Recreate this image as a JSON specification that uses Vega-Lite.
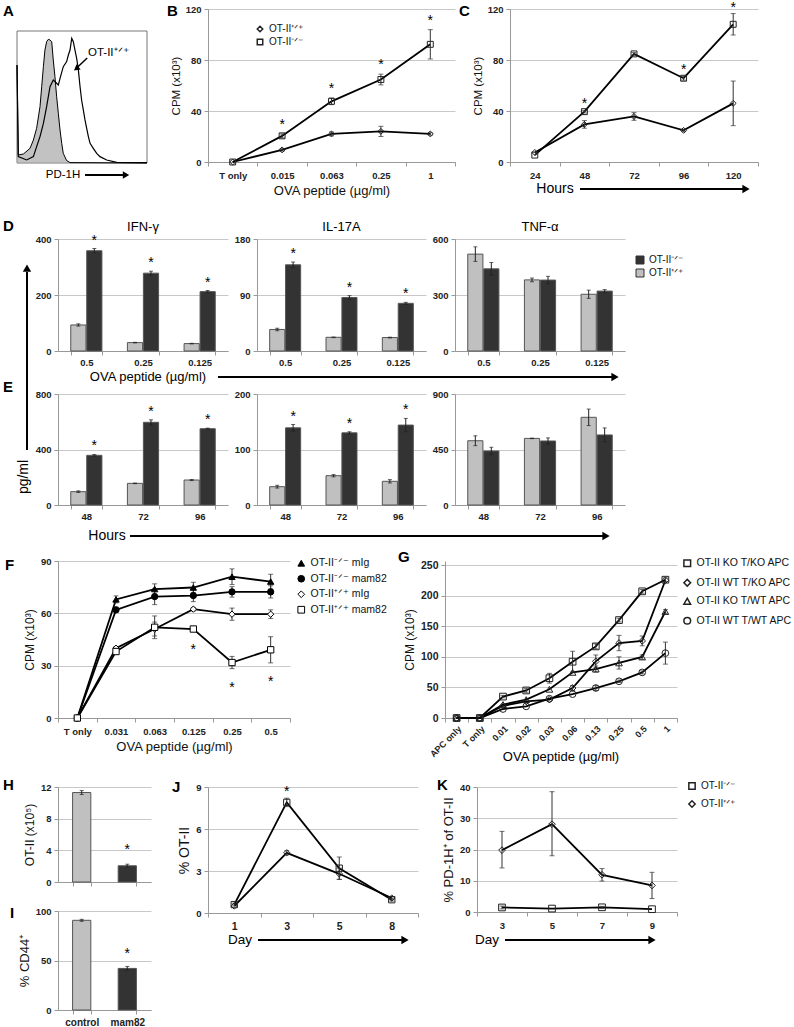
{
"$schema":"https://vega.github.io/schema/vega-lite/v6.json",
"padding":0,
"spacing":0,
"resolve":{"scale":{"color":"independent","fill":"independent","shape":"independent","stroke":"independent","xOffset":"independent"},"legend":{"color":"independent","fill":"independent","shape":"independent","stroke":"independent"}},
"datasets":{
"A":[
{"g":"ctrl","x":0,"y":74.2},{"g":"ctrl","x":1.0,"y":6.1},{"g":"ctrl","x":4.9,"y":6.8},{"g":"ctrl","x":10,"y":11.1},{"g":"ctrl","x":12.6,"y":17.4},{"g":"ctrl","x":15.1,"y":26.3},{"g":"ctrl","x":17.7,"y":42.7},{"g":"ctrl","x":19,"y":57.8},{"g":"ctrl","x":20.3,"y":73},{"g":"ctrl","x":21.5,"y":85.6},{"g":"ctrl","x":22.8,"y":91.9},{"g":"ctrl","x":24.1,"y":93.7},{"g":"ctrl","x":25.4,"y":93.2},{"g":"ctrl","x":26.7,"y":91.9},{"g":"ctrl","x":27.9,"y":78},{"g":"ctrl","x":29.2,"y":65.4},{"g":"ctrl","x":30.5,"y":50.2},{"g":"ctrl","x":31.8,"y":37.6},{"g":"ctrl","x":33.1,"y":25},{"g":"ctrl","x":34.4,"y":14.9},{"g":"ctrl","x":35.6,"y":7.3},{"g":"ctrl","x":38.2,"y":1.8},{"g":"ctrl","x":40.8,"y":0.3},{"g":"ctrl","x":100,"y":0},
{"g":"wt","x":0,"y":74.2},{"g":"wt","x":1.0,"y":4.8},{"g":"wt","x":7.4,"y":2.3},{"g":"wt","x":12.6,"y":4.8},{"g":"wt","x":15.1,"y":12.4},{"g":"wt","x":17.7,"y":20},{"g":"wt","x":20.3,"y":30},{"g":"wt","x":22.8,"y":42.7},{"g":"wt","x":25.4,"y":57.8},{"g":"wt","x":27.9,"y":62.9},{"g":"wt","x":30.5,"y":60.4},{"g":"wt","x":31.8,"y":59.1},{"g":"wt","x":33.1,"y":64.1},{"g":"wt","x":35.6,"y":73},{"g":"wt","x":38.2,"y":76.8},{"g":"wt","x":39.5,"y":81.8},{"g":"wt","x":40.8,"y":85.6},{"g":"wt","x":42.1,"y":94.4},{"g":"wt","x":43.3,"y":91.9},{"g":"wt","x":44.6,"y":85.6},{"g":"wt","x":45.9,"y":79.3},{"g":"wt","x":47.2,"y":70.5},{"g":"wt","x":48.5,"y":57.8},{"g":"wt","x":49.7,"y":47.7},{"g":"wt","x":51,"y":40.2},{"g":"wt","x":52.3,"y":32.6},{"g":"wt","x":53.6,"y":26.3},{"g":"wt","x":54.9,"y":20},{"g":"wt","x":56.2,"y":14.9},{"g":"wt","x":58.7,"y":11.1},{"g":"wt","x":61.3,"y":7.3},{"g":"wt","x":63.8,"y":4.8},{"g":"wt","x":69,"y":2.3},{"g":"wt","x":76.7,"y":0.5},{"g":"wt","x":100,"y":0.3}
],
"B":[
{"d":"T only","g":"OT-II⁺ᐟ⁺","v":0},
{"d":"0.015","g":"OT-II⁺ᐟ⁺","v":9.5,"lo":8.5,"hi":10.5},
{"d":"0.063","g":"OT-II⁺ᐟ⁺","v":22,"lo":20.5,"hi":23.5},
{"d":"0.25","g":"OT-II⁺ᐟ⁺","v":24,"lo":20,"hi":28},
{"d":"1","g":"OT-II⁺ᐟ⁺","v":22,"lo":21,"hi":23},
{"d":"T only","g":"OT-II⁻ᐟ⁻","v":0},
{"d":"0.015","g":"OT-II⁻ᐟ⁻","v":20.5,"lo":19,"hi":22,"s":true},
{"d":"0.063","g":"OT-II⁻ᐟ⁻","v":47.6,"lo":45,"hi":50.2,"s":true},
{"d":"0.25","g":"OT-II⁻ᐟ⁻","v":64.7,"lo":60.5,"hi":68.9,"s":true},
{"d":"1","g":"OT-II⁻ᐟ⁻","v":92.3,"lo":80.8,"hi":103.8,"s":true}
],
"C":[
{"h":"24","g":"OT-II⁺ᐟ⁺","v":7.5},
{"h":"48","g":"OT-II⁺ᐟ⁺","v":29.5,"lo":26.5,"hi":32.5},
{"h":"72","g":"OT-II⁺ᐟ⁺","v":35.7,"lo":32.7,"hi":38.7},
{"h":"96","g":"OT-II⁺ᐟ⁺","v":24.8,"lo":23.8,"hi":25.8},
{"h":"120","g":"OT-II⁺ᐟ⁺","v":46,"lo":28.5,"hi":63.5},
{"h":"24","g":"OT-II⁻ᐟ⁻","v":5.4},
{"h":"48","g":"OT-II⁻ᐟ⁻","v":39.5,"lo":38.5,"hi":40.5,"s":true},
{"h":"72","g":"OT-II⁻ᐟ⁻","v":84.8,"lo":83.8,"hi":85.8},
{"h":"96","g":"OT-II⁻ᐟ⁻","v":65.7,"lo":64.2,"hi":67.2,"s":true},
{"h":"120","g":"OT-II⁻ᐟ⁻","v":108,"lo":99.6,"hi":116.4,"s":true}
],
"D":[
{"c":"IFN","d":"0.5","g":"OT-II⁺ᐟ⁺","v":93,"lo":89,"hi":97},
{"c":"IFN","d":"0.5","g":"OT-II⁻ᐟ⁻","v":358,"lo":350,"hi":366,"s":true},
{"c":"IFN","d":"0.25","g":"OT-II⁺ᐟ⁺","v":30,"lo":29,"hi":31},
{"c":"IFN","d":"0.25","g":"OT-II⁻ᐟ⁻","v":278,"lo":271,"hi":285,"s":true},
{"c":"IFN","d":"0.125","g":"OT-II⁺ᐟ⁺","v":26.5,"lo":25.5,"hi":27.5},
{"c":"IFN","d":"0.125","g":"OT-II⁻ᐟ⁻","v":212,"lo":208,"hi":216,"s":true},
{"c":"IL17","d":"0.5","g":"OT-II⁺ᐟ⁺","v":34.6,"lo":32.6,"hi":36.6},
{"c":"IL17","d":"0.5","g":"OT-II⁻ᐟ⁻","v":138.5,"lo":134,"hi":143,"s":true},
{"c":"IL17","d":"0.25","g":"OT-II⁺ᐟ⁺","v":22,"lo":21.5,"hi":22.5},
{"c":"IL17","d":"0.25","g":"OT-II⁻ᐟ⁻","v":86,"lo":83,"hi":89,"s":true},
{"c":"IL17","d":"0.125","g":"OT-II⁺ᐟ⁺","v":21.6,"lo":21,"hi":22.2},
{"c":"IL17","d":"0.125","g":"OT-II⁻ᐟ⁻","v":76.6,"lo":75,"hi":78.2,"s":true},
{"c":"TNF","d":"0.5","g":"OT-II⁺ᐟ⁺","v":519,"lo":480,"hi":558},
{"c":"TNF","d":"0.5","g":"OT-II⁻ᐟ⁻","v":440,"lo":406,"hi":474},
{"c":"TNF","d":"0.25","g":"OT-II⁺ᐟ⁺","v":381,"lo":371,"hi":391},
{"c":"TNF","d":"0.25","g":"OT-II⁻ᐟ⁻","v":380,"lo":360,"hi":400},
{"c":"TNF","d":"0.125","g":"OT-II⁺ᐟ⁺","v":304,"lo":282,"hi":326},
{"c":"TNF","d":"0.125","g":"OT-II⁻ᐟ⁻","v":321,"lo":313,"hi":329}
],
"E":[
{"c":"IFN","h":"48","g":"OT-II⁺ᐟ⁺","v":96,"lo":90,"hi":102},
{"c":"IFN","h":"48","g":"OT-II⁻ᐟ⁻","v":358,"lo":352,"hi":364,"s":true},
{"c":"IFN","h":"72","g":"OT-II⁺ᐟ⁺","v":156,"lo":154,"hi":158},
{"c":"IFN","h":"72","g":"OT-II⁻ᐟ⁻","v":596,"lo":578,"hi":614,"s":true},
{"c":"IFN","h":"96","g":"OT-II⁺ᐟ⁺","v":180,"lo":176,"hi":184},
{"c":"IFN","h":"96","g":"OT-II⁻ᐟ⁻","v":550,"lo":546,"hi":554,"s":true},
{"c":"IL17","h":"48","g":"OT-II⁺ᐟ⁺","v":33,"lo":30.5,"hi":35.5},
{"c":"IL17","h":"48","g":"OT-II⁻ᐟ⁻","v":139,"lo":133,"hi":145,"s":true},
{"c":"IL17","h":"72","g":"OT-II⁺ᐟ⁺","v":52.8,"lo":50.8,"hi":54.8},
{"c":"IL17","h":"72","g":"OT-II⁻ᐟ⁻","v":130,"lo":128,"hi":132,"s":true},
{"c":"IL17","h":"96","g":"OT-II⁺ᐟ⁺","v":42.7,"lo":39.7,"hi":45.7},
{"c":"IL17","h":"96","g":"OT-II⁻ᐟ⁻","v":144,"lo":132,"hi":156,"s":true},
{"c":"TNF","h":"48","g":"OT-II⁺ᐟ⁺","v":521,"lo":481,"hi":561},
{"c":"TNF","h":"48","g":"OT-II⁻ᐟ⁻","v":438,"lo":408,"hi":468},
{"c":"TNF","h":"72","g":"OT-II⁺ᐟ⁺","v":540,"lo":538,"hi":542},
{"c":"TNF","h":"72","g":"OT-II⁻ᐟ⁻","v":519,"lo":494,"hi":544},
{"c":"TNF","h":"96","g":"OT-II⁺ᐟ⁺","v":711,"lo":644,"hi":778},
{"c":"TNF","h":"96","g":"OT-II⁻ᐟ⁻","v":568,"lo":511,"hi":625}
],
"F":[
{"d":"T only","g":"OT-II⁻ᐟ⁻ mIg","v":0},
{"d":"0.031","g":"OT-II⁻ᐟ⁻ mIg","v":68,"lo":66,"hi":70},
{"d":"0.063","g":"OT-II⁻ᐟ⁻ mIg","v":73.9,"lo":70.9,"hi":76.9},
{"d":"0.125","g":"OT-II⁻ᐟ⁻ mIg","v":74.8,"lo":71.8,"hi":77.8},
{"d":"0.25","g":"OT-II⁻ᐟ⁻ mIg","v":81,"lo":76.5,"hi":85.5},
{"d":"0.5","g":"OT-II⁻ᐟ⁻ mIg","v":78.2,"lo":74,"hi":82.4},
{"d":"T only","g":"OT-II⁻ᐟ⁻ mam82","v":0},
{"d":"0.031","g":"OT-II⁻ᐟ⁻ mam82","v":62,"lo":60.5,"hi":63.5},
{"d":"0.063","g":"OT-II⁻ᐟ⁻ mam82","v":69.6,"lo":65,"hi":74.2},
{"d":"0.125","g":"OT-II⁻ᐟ⁻ mam82","v":70.2,"lo":66.7,"hi":73.7},
{"d":"0.25","g":"OT-II⁻ᐟ⁻ mam82","v":72.3,"lo":69.3,"hi":75.3},
{"d":"0.5","g":"OT-II⁻ᐟ⁻ mam82","v":72.3,"lo":68.8,"hi":75.8},
{"d":"T only","g":"OT-II⁺ᐟ⁺ mIg","v":0},
{"d":"0.031","g":"OT-II⁺ᐟ⁺ mIg","v":40,"lo":39,"hi":41},
{"d":"0.063","g":"OT-II⁺ᐟ⁺ mIg","v":51,"lo":47,"hi":55},
{"d":"0.125","g":"OT-II⁺ᐟ⁺ mIg","v":62.4,"lo":61.4,"hi":63.4},
{"d":"0.25","g":"OT-II⁺ᐟ⁺ mIg","v":59.5,"lo":56,"hi":63},
{"d":"0.5","g":"OT-II⁺ᐟ⁺ mIg","v":59.5,"lo":57,"hi":62},
{"d":"T only","g":"OT-II⁺ᐟ⁺ mam82","v":0},
{"d":"0.031","g":"OT-II⁺ᐟ⁺ mam82","v":38.1,"lo":37,"hi":39.2},
{"d":"0.063","g":"OT-II⁺ᐟ⁺ mam82","v":52,"lo":45.5,"hi":58.5},
{"d":"0.125","g":"OT-II⁺ᐟ⁺ mam82","v":51,"lo":50,"hi":52,"s":true},
{"d":"0.25","g":"OT-II⁺ᐟ⁺ mam82","v":31.8,"lo":28.3,"hi":35.3,"s":true},
{"d":"0.5","g":"OT-II⁺ᐟ⁺ mam82","v":39.1,"lo":31.6,"hi":46.6,"s":true}
],
"G":[
{"d":"APC only","g":"OT-II KO T/KO APC","v":0},{"d":"T only","g":"OT-II KO T/KO APC","v":0},{"d":"0.01","g":"OT-II KO T/KO APC","v":35,"lo":33,"hi":37},{"d":"0.02","g":"OT-II KO T/KO APC","v":45,"lo":42,"hi":48},{"d":"0.03","g":"OT-II KO T/KO APC","v":65,"lo":57,"hi":73},{"d":"0.06","g":"OT-II KO T/KO APC","v":92,"lo":75,"hi":109},{"d":"0.13","g":"OT-II KO T/KO APC","v":117,"lo":113,"hi":121},{"d":"0.25","g":"OT-II KO T/KO APC","v":160,"lo":157,"hi":163},{"d":"0.5","g":"OT-II KO T/KO APC","v":207,"lo":204,"hi":210},{"d":"1","g":"OT-II KO T/KO APC","v":226,"lo":223,"hi":229},
{"d":"APC only","g":"OT-II WT T/KO APC","v":0},{"d":"T only","g":"OT-II WT T/KO APC","v":0},{"d":"0.01","g":"OT-II WT T/KO APC","v":20},{"d":"0.02","g":"OT-II WT T/KO APC","v":27},{"d":"0.03","g":"OT-II WT T/KO APC","v":30},{"d":"0.06","g":"OT-II WT T/KO APC","v":49,"lo":45,"hi":53},{"d":"0.13","g":"OT-II WT T/KO APC","v":92.5,"lo":82,"hi":103},{"d":"0.25","g":"OT-II WT T/KO APC","v":122.5,"lo":110,"hi":135},{"d":"0.5","g":"OT-II WT T/KO APC","v":126,"lo":118,"hi":134},{"d":"1","g":"OT-II WT T/KO APC","v":225},
{"d":"APC only","g":"OT-II KO T/WT APC","v":0},{"d":"T only","g":"OT-II KO T/WT APC","v":0},{"d":"0.01","g":"OT-II KO T/WT APC","v":22},{"d":"0.02","g":"OT-II KO T/WT APC","v":30},{"d":"0.03","g":"OT-II KO T/WT APC","v":47},{"d":"0.06","g":"OT-II KO T/WT APC","v":74.6},{"d":"0.13","g":"OT-II KO T/WT APC","v":80,"lo":75,"hi":85},{"d":"0.25","g":"OT-II KO T/WT APC","v":90,"lo":80,"hi":100},{"d":"0.5","g":"OT-II KO T/WT APC","v":99.7,"lo":96,"hi":103},{"d":"1","g":"OT-II KO T/WT APC","v":174,"lo":171,"hi":177},
{"d":"APC only","g":"OT-II WT T/WT APC","v":0},{"d":"T only","g":"OT-II WT T/WT APC","v":0},{"d":"0.01","g":"OT-II WT T/WT APC","v":14.7},{"d":"0.02","g":"OT-II WT T/WT APC","v":19},{"d":"0.03","g":"OT-II WT T/WT APC","v":31.5},{"d":"0.06","g":"OT-II WT T/WT APC","v":39},{"d":"0.13","g":"OT-II WT T/WT APC","v":49,"lo":45,"hi":53},{"d":"0.25","g":"OT-II WT T/WT APC","v":60,"lo":58,"hi":62},{"d":"0.5","g":"OT-II WT T/WT APC","v":74.5,"lo":72,"hi":77},{"d":"1","g":"OT-II WT T/WT APC","v":106,"lo":88,"hi":124}
],
"HI":[
{"p":"H","t":"control","v":11.3,"lo":11.05,"hi":11.55},
{"p":"H","t":"mam82","v":2.05,"lo":1.85,"hi":2.25,"s":true},
{"p":"I","t":"control","v":90.6,"lo":89.6,"hi":91.6},
{"p":"I","t":"mam82","v":42,"lo":40,"hi":44,"s":true}
],
"J":[
{"day":"1","g":"OT-II⁻ᐟ⁻","v":0.6,"lo":0.5,"hi":0.7},
{"day":"3","g":"OT-II⁻ᐟ⁻","v":7.9,"lo":7.6,"hi":8.2,"s":true},
{"day":"5","g":"OT-II⁻ᐟ⁻","v":3.2,"lo":2.4,"hi":4.0},
{"day":"8","g":"OT-II⁻ᐟ⁻","v":0.95,"lo":0.85,"hi":1.05},
{"day":"1","g":"OT-II⁺ᐟ⁺","v":0.5},
{"day":"3","g":"OT-II⁺ᐟ⁺","v":4.3,"lo":4.15,"hi":4.45},
{"day":"5","g":"OT-II⁺ᐟ⁺","v":2.8,"lo":2.4,"hi":3.2},
{"day":"8","g":"OT-II⁺ᐟ⁺","v":1.07,"lo":0.97,"hi":1.17}
],
"K":[
{"day":"3","g":"OT-II⁺ᐟ⁺","v":19.8,"lo":14.1,"hi":25.8},
{"day":"5","g":"OT-II⁺ᐟ⁺","v":28.1,"lo":18,"hi":38.5},
{"day":"7","g":"OT-II⁺ᐟ⁺","v":11.9,"lo":9.9,"hi":13.9},
{"day":"9","g":"OT-II⁺ᐟ⁺","v":8.5,"lo":4.3,"hi":12.7},
{"day":"3","g":"OT-II⁻ᐟ⁻","v":1.45,"lo":1,"hi":1.9},
{"day":"5","g":"OT-II⁻ᐟ⁻","v":1.1},
{"day":"7","g":"OT-II⁻ᐟ⁻","v":1.5,"lo":1.2,"hi":1.8},
{"day":"9","g":"OT-II⁻ᐟ⁻","v":0.9}
]
},
"vconcat":[
{"hconcat":[
 {"width":160,"height":196,
  "encoding":{"x":{"field":"x","type":"quantitative","scale":{"domain":[-13.077,110],"nice":false,"zero":false},"axis":null},"y":{"field":"y","type":"quantitative","scale":{"domain":[-31.818,116.667],"nice":false,"zero":false},"axis":null}},
  "layer":[
   {"data":{"values":[{"x":-13,"x2":109.9,"y":123.47,"y2":-31.8}]},"mark":{"type":"rect","opacity":0},"encoding":{"x2":{"field":"x2"},"y2":{"field":"y2"}}},
   {"data":{"values":[{"x":0,"x2":100,"y":0,"y2":100}]},"mark":{"type":"rect","fill":"white","fillOpacity":0,"stroke":"#777","strokeWidth":1},"encoding":{"x2":{"field":"x2"},"y2":{"field":"y2"}}},
   {"data":{"name":"A"},"transform":[{"filter":"datum.g == 'ctrl'"}],"mark":{"type":"area","color":"#a8a8a8","line":{"color":"black","strokeWidth":1}}},
   {"data":{"name":"A"},"transform":[{"filter":"datum.g == 'wt'"}],"mark":{"type":"line","color":"black","strokeWidth":1.2}},
   {"data":{"values":[{"x":54.6,"y":83.3,"t":"OT-II⁺ᐟ⁺"}]},"mark":{"type":"text","align":"left","baseline":"middle","fontSize":11.5},"encoding":{"text":{"field":"t"}}},
   {"data":{"values":[{"x":35.4,"y":-9.09,"t":"PD-1H"}]},"mark":{"type":"text","align":"center","baseline":"middle","fontSize":11.5},"encoding":{"text":{"field":"t"}}},
   {"data":{"values":[{"x":-10.77,"y":111.36,"t":"A"}]},"mark":{"type":"text","align":"left","baseline":"alphabetic","fontSize":15,"fontWeight":"bold"},"encoding":{"text":{"field":"t"}}},
   {"data":{"values":[{"x":54,"y":79.5,"x2":46.5,"y2":72.5}]},"mark":{"type":"rule","strokeWidth":1.5,"color":"black"},"encoding":{"x2":{"field":"x2"},"y2":{"field":"y2"}}},
   {"data":{"values":[{"x":52.3,"y":-9.09,"x2":81.5,"y2":-9.09}]},"mark":{"type":"rule","strokeWidth":2,"color":"black"},"encoding":{"x2":{"field":"x2"},"y2":{"field":"y2"}}},
   {"data":{"values":[{"x":45.6,"y":71.5}]},"mark":{"type":"point","shape":"triangle-up","angle":232,"filled":true,"color":"black","size":45,"opacity":1}},
   {"data":{"values":[{"x":83.85,"y":-9.09}]},"mark":{"type":"point","shape":"triangle-right","filled":true,"color":"black","size":55,"opacity":1}}
  ]},
 {"width":247,"height":153,
  "resolve":{"scale":{"x":"independent","y":"independent"}},
  "layer":[
   {"data":{"name":"B"},
    "encoding":{"x":{"field":"d","type":"nominal","sort":["T only","0.015","0.063","0.25","1"],"scale":{"type":"band","paddingInner":0,"paddingOuter":0},"bandPosition":0.5,"axis":{"title":"OVA peptide (µg/ml)","titleFontSize":13,"tickBand":"extent","labelPadding":4,"titlePadding":5}}},
    "layer":[
     {"mark":{"type":"line","color":"black","strokeWidth":1.8},"encoding":{"y":{"field":"v","type":"quantitative","scale":{"domain":[0,120],"nice":false},"axis":{"values":[0,40,80,120],"title":"CPM (x10³)","titleFontSize":11.5}},"detail":{"field":"g","type":"nominal"}}},
     {"mark":{"type":"rule","color":"#333","strokeWidth":1},"encoding":{"y":{"field":"lo","type":"quantitative","scale":{"domain":[0,120],"nice":false},"axis":{"values":[0,40,80,120],"title":"CPM (x10³)","titleFontSize":11.5}},"y2":{"field":"hi"}}},
     {"mark":{"type":"tick","color":"#333","thickness":1,"size":5},"encoding":{"y":{"field":"lo","type":"quantitative","scale":{"domain":[0,120],"nice":false},"axis":{"values":[0,40,80,120],"title":"CPM (x10³)","titleFontSize":11.5}}}},
     {"mark":{"type":"tick","color":"#333","thickness":1,"size":5},"encoding":{"y":{"field":"hi","type":"quantitative","scale":{"domain":[0,120],"nice":false},"axis":{"values":[0,40,80,120],"title":"CPM (x10³)","titleFontSize":11.5}}}},
     {"mark":{"type":"point","filled":false,"color":"#222","strokeWidth":1,"size":35,"opacity":1},"encoding":{"y":{"field":"v","type":"quantitative","scale":{"domain":[0,120],"nice":false},"axis":{"values":[0,40,80,120],"title":"CPM (x10³)","titleFontSize":11.5}},"shape":{"field":"g","type":"nominal","scale":{"domain":["OT-II⁺ᐟ⁺","OT-II⁻ᐟ⁻"],"range":["diamond","square"]},"legend":{"orient":"none","legendX":47,"legendY":15,"title":null,"labelFontSize":10,"symbolSize":30,"rowPadding":1,"symbolStrokeColor":"#222"}}}},
     {"transform":[{"filter":"datum.s"}],"mark":{"type":"text","text":"*","fontSize":14,"dy":-9,"baseline":"middle"},"encoding":{"y":{"field":"hi","type":"quantitative","scale":{"domain":[0,120],"nice":false},"axis":{"values":[0,40,80,120],"title":"CPM (x10³)","titleFontSize":11.5}}}}
    ]},
   {"data":{"values":[{"x":-0.19433,"x2":1.00809,"y":1.05882,"y2":-0.28104}]},"mark":{"type":"rect","opacity":0},"encoding":{"x":{"field":"x","type":"quantitative","scale":{"domain":[0,1],"nice":false,"zero":false},"axis":null},"x2":{"field":"x2"},"y":{"field":"y","type":"quantitative","scale":{"domain":[0,1],"nice":false,"zero":false},"axis":null},"y2":{"field":"y2"}}},
   {"data":{"values":[{"x":-0.166,"y":0.954,"t":"B"}]},"mark":{"type":"text","align":"left","baseline":"alphabetic","fontSize":15,"fontWeight":"bold"},"encoding":{"x":{"field":"x","type":"quantitative","scale":{"domain":[0,1],"nice":false,"zero":false},"axis":null},"y":{"field":"y","type":"quantitative","scale":{"domain":[0,1],"nice":false,"zero":false},"axis":null},"text":{"field":"t"}}}
  ]},
 {"width":248,"height":153,
  "resolve":{"scale":{"x":"independent","y":"independent"}},
  "layer":[
   {"data":{"name":"C"},
    "encoding":{"x":{"field":"h","type":"nominal","sort":["24","48","72","96","120"],"scale":{"type":"band","paddingInner":0,"paddingOuter":0},"bandPosition":0.5,"axis":{"title":null,"tickBand":"extent","labelPadding":4}}},
    "layer":[
     {"mark":{"type":"line","color":"black","strokeWidth":1.8},"encoding":{"y":{"field":"v","type":"quantitative","scale":{"domain":[0,120],"nice":false},"axis":{"values":[0,40,80,120],"title":"CPM (x10³)","titleFontSize":11.5}},"detail":{"field":"g","type":"nominal"}}},
     {"mark":{"type":"rule","color":"#333","strokeWidth":1},"encoding":{"y":{"field":"lo","type":"quantitative","scale":{"domain":[0,120],"nice":false},"axis":{"values":[0,40,80,120],"title":"CPM (x10³)","titleFontSize":11.5}},"y2":{"field":"hi"}}},
     {"mark":{"type":"tick","color":"#333","thickness":1,"size":5},"encoding":{"y":{"field":"lo","type":"quantitative","scale":{"domain":[0,120],"nice":false},"axis":{"values":[0,40,80,120],"title":"CPM (x10³)","titleFontSize":11.5}}}},
     {"mark":{"type":"tick","color":"#333","thickness":1,"size":5},"encoding":{"y":{"field":"hi","type":"quantitative","scale":{"domain":[0,120],"nice":false},"axis":{"values":[0,40,80,120],"title":"CPM (x10³)","titleFontSize":11.5}}}},
     {"mark":{"type":"point","filled":false,"color":"#222","strokeWidth":1,"size":35,"opacity":1},"encoding":{"y":{"field":"v","type":"quantitative","scale":{"domain":[0,120],"nice":false},"axis":{"values":[0,40,80,120],"title":"CPM (x10³)","titleFontSize":11.5}},"shape":{"field":"g","type":"nominal","scale":{"domain":["OT-II⁺ᐟ⁺","OT-II⁻ᐟ⁻"],"range":["diamond","square"]},"legend":null}}},
     {"transform":[{"filter":"datum.s"}],"mark":{"type":"text","text":"*","fontSize":14,"dy":-6,"baseline":"middle"},"encoding":{"y":{"field":"hi","type":"quantitative","scale":{"domain":[0,120],"nice":false},"axis":{"values":[0,40,80,120],"title":"CPM (x10³)","titleFontSize":11.5}}}}
    ]},
   {"data":{"values":[{"x":-0.2137,"x2":1,"y":1.05882,"y2":-0.28104}]},"mark":{"type":"rect","opacity":0},"encoding":{"x":{"field":"x","type":"quantitative","scale":{"domain":[0,1],"nice":false,"zero":false},"axis":null},"x2":{"field":"x2"},"y":{"field":"y","type":"quantitative","scale":{"domain":[0,1],"nice":false,"zero":false},"axis":null},"y2":{"field":"y2"}}},
   {"data":{"values":[{"x":-0.2056,"y":0.954,"t":"C"}]},"mark":{"type":"text","align":"left","baseline":"alphabetic","fontSize":15,"fontWeight":"bold"},"encoding":{"x":{"field":"x","type":"quantitative","scale":{"domain":[0,1],"nice":false,"zero":false},"axis":null},"y":{"field":"y","type":"quantitative","scale":{"domain":[0,1],"nice":false,"zero":false},"axis":null},"text":{"field":"t"}}},
   {"data":{"values":[{"x":0.1815,"y":-0.1765,"t":"Hours"}]},"mark":{"type":"text","align":"center","baseline":"middle","fontSize":14},"encoding":{"x":{"field":"x","type":"quantitative","scale":{"domain":[0,1],"nice":false,"zero":false},"axis":null},"y":{"field":"y","type":"quantitative","scale":{"domain":[0,1],"nice":false,"zero":false},"axis":null},"text":{"field":"t"}}},
   {"data":{"values":[{"x":0.2823,"x2":0.9476,"y":-0.1765}]},"mark":{"type":"rule","strokeWidth":2,"color":"black"},"encoding":{"x":{"field":"x","type":"quantitative","scale":{"domain":[0,1],"nice":false,"zero":false},"axis":null},"x2":{"field":"x2"},"y":{"field":"y","type":"quantitative","scale":{"domain":[0,1],"nice":false,"zero":false},"axis":null}}},
   {"data":{"values":[{"x":0.9516,"y":-0.1765}]},"mark":{"type":"point","shape":"triangle-right","filled":true,"color":"black","size":70,"opacity":1},"encoding":{"x":{"field":"x","type":"quantitative","scale":{"domain":[0,1],"nice":false,"zero":false},"axis":null},"y":{"field":"y","type":"quantitative","scale":{"domain":[0,1],"nice":false,"zero":false},"axis":null}}}
  ]}
],"spacing":0,"resolve":{"scale":{"color":"independent","fill":"independent","shape":"independent","stroke":"independent","xOffset":"independent"},"legend":{"color":"independent","fill":"independent","shape":"independent","stroke":"independent"}}},
{"hconcat":[
 {"width":33,"height":309,
  "encoding":{"x":{"field":"x","type":"quantitative","scale":{"domain":[0,1],"nice":false,"zero":false},"axis":null},"y":{"field":"y","type":"quantitative","scale":{"domain":[0,1],"nice":false,"zero":false},"axis":null}},
  "layer":[
   {"data":{"values":[{"x":0.001,"x2":0.999,"y":1.11003,"y2":0.001}]},"mark":{"type":"rect","opacity":0},"encoding":{"x2":{"field":"x2"},"y2":{"field":"y2"}}},
   {"data":{"values":[{"x":0.0909,"y":1.0259,"t":"D"},{"x":0.0909,"y":0.5049,"t":"E"}]},"mark":{"type":"text","align":"left","baseline":"alphabetic","fontSize":15,"fontWeight":"bold"},"encoding":{"text":{"field":"t"}}},
   {"data":{"values":[{"x":0.742,"y":0.2298,"t":"pg/ml"}]},"mark":{"type":"text","align":"center","baseline":"middle","fontSize":14,"angle":270},"encoding":{"text":{"field":"t"}}},
   {"data":{"values":[{"x":0.8182,"y":0.3172,"y2":0.8932}]},"mark":{"type":"rule","strokeWidth":2,"color":"black"},"encoding":{"y2":{"field":"y2"}}},
   {"data":{"values":[{"x":0.8182,"y":0.9061}]},"mark":{"type":"point","shape":"triangle-up","filled":true,"color":"black","size":70,"opacity":1}}
  ]},
 {"vconcat":[
  {"hconcat":[
   {"width":170,"height":112,
    "resolve":{"scale":{"x":"independent","y":"independent"}},
    "layer":[
     {"data":{"name":"D"},"transform":[{"filter":"datum.c == 'IFN'"}],
      "encoding":{"x":{"field":"d","type":"nominal","sort":["0.5","0.25","0.125"],"scale":{"type":"band","paddingInner":0.45,"paddingOuter":0.225},"axis":{"title":null,"tickBand":"extent","labelPadding":2}},"xOffset":{"field":"g","type":"nominal","scale":{"domain":["OT-II⁺ᐟ⁺","OT-II⁻ᐟ⁻"],"paddingInner":0.05}}},
      "layer":[
       {"mark":{"type":"bar","stroke":"#555","strokeWidth":1},"encoding":{"y":{"field":"v","type":"quantitative","scale":{"domain":[0,400],"nice":false},"axis":{"values":[0,200,400],"title":null}},"color":{"field":"g","type":"nominal","scale":{"domain":["OT-II⁻ᐟ⁻","OT-II⁺ᐟ⁺"],"range":["#333333","#c0c0c0"]},"legend":null}}},
       {"mark":{"type":"rule","color":"#222","strokeWidth":1},"encoding":{"y":{"field":"lo","type":"quantitative","scale":{"domain":[0,400],"nice":false},"axis":{"values":[0,200,400],"title":null}},"y2":{"field":"hi"}}},
       {"mark":{"type":"tick","color":"#222","thickness":1,"size":4},"encoding":{"y":{"field":"lo","type":"quantitative","scale":{"domain":[0,400],"nice":false},"axis":{"values":[0,200,400],"title":null}}}},
       {"mark":{"type":"tick","color":"#222","thickness":1,"size":4},"encoding":{"y":{"field":"hi","type":"quantitative","scale":{"domain":[0,400],"nice":false},"axis":{"values":[0,200,400],"title":null}}}},
       {"transform":[{"filter":"datum.s"}],"mark":{"type":"text","text":"*","fontSize":14,"dy":-8,"baseline":"middle"},"encoding":{"y":{"field":"hi","type":"quantitative","scale":{"domain":[0,400],"nice":false},"axis":{"values":[0,200,400],"title":null}}}}
      ]},
     {"data":{"values":[{"x":-0.14705,"x2":1.02352,"y":1.30357,"y2":-0.15178}]},"mark":{"type":"rect","opacity":0},"encoding":{"x":{"field":"x","type":"quantitative","scale":{"domain":[0,1],"nice":false,"zero":false},"axis":null},"x2":{"field":"x2"},"y":{"field":"y","type":"quantitative","scale":{"domain":[0,1],"nice":false,"zero":false},"axis":null},"y2":{"field":"y2"}}},
     {"data":{"values":[{"x":0.5,"y":1.1071,"t":"IFN-γ"}]},"mark":{"type":"text","align":"center","baseline":"middle","fontSize":13},"encoding":{"x":{"field":"x","type":"quantitative","scale":{"domain":[0,1],"nice":false,"zero":false},"axis":null},"y":{"field":"y","type":"quantitative","scale":{"domain":[0,1],"nice":false,"zero":false},"axis":null},"text":{"field":"t"}}}
    ]},
   {"width":169,"height":112,
    "resolve":{"scale":{"x":"independent","y":"independent"}},
    "layer":[
     {"data":{"name":"D"},"transform":[{"filter":"datum.c == 'IL17'"}],
      "encoding":{"x":{"field":"d","type":"nominal","sort":["0.5","0.25","0.125"],"scale":{"type":"band","paddingInner":0.45,"paddingOuter":0.225},"axis":{"title":null,"tickBand":"extent","labelPadding":2}},"xOffset":{"field":"g","type":"nominal","scale":{"domain":["OT-II⁺ᐟ⁺","OT-II⁻ᐟ⁻"],"paddingInner":0.05}}},
      "layer":[
       {"mark":{"type":"bar","stroke":"#555","strokeWidth":1},"encoding":{"y":{"field":"v","type":"quantitative","scale":{"domain":[0,180],"nice":false},"axis":{"values":[0,90,180],"title":null}},"color":{"field":"g","type":"nominal","scale":{"domain":["OT-II⁻ᐟ⁻","OT-II⁺ᐟ⁺"],"range":["#333333","#c0c0c0"]},"legend":null}}},
       {"mark":{"type":"rule","color":"#222","strokeWidth":1},"encoding":{"y":{"field":"lo","type":"quantitative","scale":{"domain":[0,180],"nice":false},"axis":{"values":[0,90,180],"title":null}},"y2":{"field":"hi"}}},
       {"mark":{"type":"tick","color":"#222","thickness":1,"size":4},"encoding":{"y":{"field":"lo","type":"quantitative","scale":{"domain":[0,180],"nice":false},"axis":{"values":[0,90,180],"title":null}}}},
       {"mark":{"type":"tick","color":"#222","thickness":1,"size":4},"encoding":{"y":{"field":"hi","type":"quantitative","scale":{"domain":[0,180],"nice":false},"axis":{"values":[0,90,180],"title":null}}}},
       {"transform":[{"filter":"datum.s"}],"mark":{"type":"text","text":"*","fontSize":14,"dy":-8,"baseline":"middle"},"encoding":{"y":{"field":"hi","type":"quantitative","scale":{"domain":[0,180],"nice":false},"axis":{"values":[0,90,180],"title":null}}}}
      ]},
     {"data":{"values":[{"x":-0.14792,"x2":1.02366,"y":1.30357,"y2":-0.15178}]},"mark":{"type":"rect","opacity":0},"encoding":{"x":{"field":"x","type":"quantitative","scale":{"domain":[0,1],"nice":false,"zero":false},"axis":null},"x2":{"field":"x2"},"y":{"field":"y","type":"quantitative","scale":{"domain":[0,1],"nice":false,"zero":false},"axis":null},"y2":{"field":"y2"}}},
     {"data":{"values":[{"x":0.5,"y":1.1071,"t":"IL-17A"}]},"mark":{"type":"text","align":"center","baseline":"middle","fontSize":13},"encoding":{"x":{"field":"x","type":"quantitative","scale":{"domain":[0,1],"nice":false,"zero":false},"axis":null},"y":{"field":"y","type":"quantitative","scale":{"domain":[0,1],"nice":false,"zero":false},"axis":null},"text":{"field":"t"}}}
    ]},
   {"width":170,"height":112,
    "resolve":{"scale":{"x":"independent","y":"independent"}},
    "layer":[
     {"data":{"name":"D"},"transform":[{"filter":"datum.c == 'TNF'"}],
      "encoding":{"x":{"field":"d","type":"nominal","sort":["0.5","0.25","0.125"],"scale":{"type":"band","paddingInner":0.45,"paddingOuter":0.225},"axis":{"title":null,"tickBand":"extent","labelPadding":2}},"xOffset":{"field":"g","type":"nominal","scale":{"domain":["OT-II⁺ᐟ⁺","OT-II⁻ᐟ⁻"],"paddingInner":0.05}}},
      "layer":[
       {"mark":{"type":"bar","stroke":"#555","strokeWidth":1},"encoding":{"y":{"field":"v","type":"quantitative","scale":{"domain":[0,600],"nice":false},"axis":{"values":[0,300,600],"title":null}},"color":{"field":"g","type":"nominal","scale":{"domain":["OT-II⁻ᐟ⁻","OT-II⁺ᐟ⁺"],"range":["#333333","#c0c0c0"]},"legend":{"orient":"none","legendX":180,"legendY":16,"title":null,"symbolType":"square","symbolSize":64,"symbolStrokeColor":"#333","symbolStrokeWidth":1,"labelFontSize":10,"rowPadding":1}}}},
       {"mark":{"type":"rule","color":"#222","strokeWidth":1},"encoding":{"y":{"field":"lo","type":"quantitative","scale":{"domain":[0,600],"nice":false},"axis":{"values":[0,300,600],"title":null}},"y2":{"field":"hi"}}},
       {"mark":{"type":"tick","color":"#222","thickness":1,"size":4},"encoding":{"y":{"field":"lo","type":"quantitative","scale":{"domain":[0,600],"nice":false},"axis":{"values":[0,300,600],"title":null}}}},
       {"mark":{"type":"tick","color":"#222","thickness":1,"size":4},"encoding":{"y":{"field":"hi","type":"quantitative","scale":{"domain":[0,600],"nice":false},"axis":{"values":[0,300,600],"title":null}}}}
      ]},
     {"data":{"values":[{"x":-0.14705,"x2":1,"y":1.30357,"y2":-0.15178}]},"mark":{"type":"rect","opacity":0},"encoding":{"x":{"field":"x","type":"quantitative","scale":{"domain":[0,1],"nice":false,"zero":false},"axis":null},"x2":{"field":"x2"},"y":{"field":"y","type":"quantitative","scale":{"domain":[0,1],"nice":false,"zero":false},"axis":null},"y2":{"field":"y2"}}},
     {"data":{"values":[{"x":0.5,"y":1.1071,"t":"TNF-α"}]},"mark":{"type":"text","align":"center","baseline":"middle","fontSize":13},"encoding":{"x":{"field":"x","type":"quantitative","scale":{"domain":[0,1],"nice":false,"zero":false},"axis":null},"y":{"field":"y","type":"quantitative","scale":{"domain":[0,1],"nice":false,"zero":false},"axis":null},"text":{"field":"t"}}}
    ]}
  ],"spacing":0,"resolve":{"scale":{"color":"independent","fill":"independent","shape":"independent","stroke":"independent","xOffset":"independent"},"legend":{"color":"independent","fill":"independent","shape":"independent","stroke":"independent"}}},
  {"width":567,"height":19,
   "encoding":{"x":{"field":"x","type":"quantitative","scale":{"domain":[0,1],"nice":false,"zero":false},"axis":null},"y":{"field":"y","type":"quantitative","scale":{"domain":[0,1],"nice":false,"zero":false},"axis":null}},
   "layer":[
    {"data":{"values":[{"x":-0.04409,"x2":0.999,"y":0.999,"y2":0.001}]},"mark":{"type":"rect","opacity":0},"encoding":{"x2":{"field":"x2"},"y2":{"field":"y2"}}},
    {"data":{"values":[{"x":0.1587,"y":0.5263,"t":"OVA peptide (µg/ml)"}]},"mark":{"type":"text","align":"center","baseline":"middle","fontSize":13},"encoding":{"text":{"field":"t"}}},
    {"data":{"values":[{"x":0.2822,"x2":0.9788,"y":0.5263}]},"mark":{"type":"rule","strokeWidth":2,"color":"black"},"encoding":{"x2":{"field":"x2"}}},
    {"data":{"values":[{"x":0.9824,"y":0.5263}]},"mark":{"type":"point","shape":"triangle-right","filled":true,"color":"black","size":70,"opacity":1}}
   ]},
  {"hconcat":[
   {"width":170,"height":111,
    "resolve":{"scale":{"x":"independent","y":"independent"}},
    "layer":[
     {"data":{"name":"E"},"transform":[{"filter":"datum.c == 'IFN'"}],
      "encoding":{"x":{"field":"h","type":"nominal","sort":["48","72","96"],"scale":{"type":"band","paddingInner":0.45,"paddingOuter":0.225},"axis":{"title":null,"tickBand":"extent","labelPadding":2}},"xOffset":{"field":"g","type":"nominal","scale":{"domain":["OT-II⁺ᐟ⁺","OT-II⁻ᐟ⁻"],"paddingInner":0.05}}},
      "layer":[
       {"mark":{"type":"bar","stroke":"#555","strokeWidth":1},"encoding":{"y":{"field":"v","type":"quantitative","scale":{"domain":[0,800],"nice":false},"axis":{"values":[0,400,800],"title":null}},"color":{"field":"g","type":"nominal","scale":{"domain":["OT-II⁻ᐟ⁻","OT-II⁺ᐟ⁺"],"range":["#333333","#c0c0c0"]},"legend":null}}},
       {"mark":{"type":"rule","color":"#222","strokeWidth":1},"encoding":{"y":{"field":"lo","type":"quantitative","scale":{"domain":[0,800],"nice":false},"axis":{"values":[0,400,800],"title":null}},"y2":{"field":"hi"}}},
       {"mark":{"type":"tick","color":"#222","thickness":1,"size":4},"encoding":{"y":{"field":"lo","type":"quantitative","scale":{"domain":[0,800],"nice":false},"axis":{"values":[0,400,800],"title":null}}}},
       {"mark":{"type":"tick","color":"#222","thickness":1,"size":4},"encoding":{"y":{"field":"hi","type":"quantitative","scale":{"domain":[0,800],"nice":false},"axis":{"values":[0,400,800],"title":null}}}},
       {"transform":[{"filter":"datum.s"}],"mark":{"type":"text","text":"*","fontSize":14,"dy":-8,"baseline":"middle"},"encoding":{"y":{"field":"hi","type":"quantitative","scale":{"domain":[0,800],"nice":false},"axis":{"values":[0,400,800],"title":null}}}}
      ]},
     {"data":{"values":[{"x":-0.14705,"x2":1.02352,"y":1.06306,"y2":-0.17117}]},"mark":{"type":"rect","opacity":0},"encoding":{"x":{"field":"x","type":"quantitative","scale":{"domain":[0,1],"nice":false,"zero":false},"axis":null},"x2":{"field":"x2"},"y":{"field":"y","type":"quantitative","scale":{"domain":[0,1],"nice":false,"zero":false},"axis":null},"y2":{"field":"y2"}}}
    ]},
   {"width":169,"height":111,
    "resolve":{"scale":{"x":"independent","y":"independent"}},
    "layer":[
     {"data":{"name":"E"},"transform":[{"filter":"datum.c == 'IL17'"}],
      "encoding":{"x":{"field":"h","type":"nominal","sort":["48","72","96"],"scale":{"type":"band","paddingInner":0.45,"paddingOuter":0.225},"axis":{"title":null,"tickBand":"extent","labelPadding":2}},"xOffset":{"field":"g","type":"nominal","scale":{"domain":["OT-II⁺ᐟ⁺","OT-II⁻ᐟ⁻"],"paddingInner":0.05}}},
      "layer":[
       {"mark":{"type":"bar","stroke":"#555","strokeWidth":1},"encoding":{"y":{"field":"v","type":"quantitative","scale":{"domain":[0,200],"nice":false},"axis":{"values":[0,100,200],"title":null}},"color":{"field":"g","type":"nominal","scale":{"domain":["OT-II⁻ᐟ⁻","OT-II⁺ᐟ⁺"],"range":["#333333","#c0c0c0"]},"legend":null}}},
       {"mark":{"type":"rule","color":"#222","strokeWidth":1},"encoding":{"y":{"field":"lo","type":"quantitative","scale":{"domain":[0,200],"nice":false},"axis":{"values":[0,100,200],"title":null}},"y2":{"field":"hi"}}},
       {"mark":{"type":"tick","color":"#222","thickness":1,"size":4},"encoding":{"y":{"field":"lo","type":"quantitative","scale":{"domain":[0,200],"nice":false},"axis":{"values":[0,100,200],"title":null}}}},
       {"mark":{"type":"tick","color":"#222","thickness":1,"size":4},"encoding":{"y":{"field":"hi","type":"quantitative","scale":{"domain":[0,200],"nice":false},"axis":{"values":[0,100,200],"title":null}}}},
       {"transform":[{"filter":"datum.s"}],"mark":{"type":"text","text":"*","fontSize":14,"dy":-8,"baseline":"middle"},"encoding":{"y":{"field":"hi","type":"quantitative","scale":{"domain":[0,200],"nice":false},"axis":{"values":[0,100,200],"title":null}}}}
      ]},
     {"data":{"values":[{"x":-0.14792,"x2":1.02366,"y":1.06306,"y2":-0.17117}]},"mark":{"type":"rect","opacity":0},"encoding":{"x":{"field":"x","type":"quantitative","scale":{"domain":[0,1],"nice":false,"zero":false},"axis":null},"x2":{"field":"x2"},"y":{"field":"y","type":"quantitative","scale":{"domain":[0,1],"nice":false,"zero":false},"axis":null},"y2":{"field":"y2"}}}
    ]},
   {"width":170,"height":111,
    "resolve":{"scale":{"x":"independent","y":"independent"}},
    "layer":[
     {"data":{"name":"E"},"transform":[{"filter":"datum.c == 'TNF'"}],
      "encoding":{"x":{"field":"h","type":"nominal","sort":["48","72","96"],"scale":{"type":"band","paddingInner":0.45,"paddingOuter":0.225},"axis":{"title":null,"tickBand":"extent","labelPadding":2}},"xOffset":{"field":"g","type":"nominal","scale":{"domain":["OT-II⁺ᐟ⁺","OT-II⁻ᐟ⁻"],"paddingInner":0.05}}},
      "layer":[
       {"mark":{"type":"bar","stroke":"#555","strokeWidth":1},"encoding":{"y":{"field":"v","type":"quantitative","scale":{"domain":[0,900],"nice":false},"axis":{"values":[0,450,900],"title":null}},"color":{"field":"g","type":"nominal","scale":{"domain":["OT-II⁻ᐟ⁻","OT-II⁺ᐟ⁺"],"range":["#333333","#c0c0c0"]},"legend":null}}},
       {"mark":{"type":"rule","color":"#222","strokeWidth":1},"encoding":{"y":{"field":"lo","type":"quantitative","scale":{"domain":[0,900],"nice":false},"axis":{"values":[0,450,900],"title":null}},"y2":{"field":"hi"}}},
       {"mark":{"type":"tick","color":"#222","thickness":1,"size":4},"encoding":{"y":{"field":"lo","type":"quantitative","scale":{"domain":[0,900],"nice":false},"axis":{"values":[0,450,900],"title":null}}}},
       {"mark":{"type":"tick","color":"#222","thickness":1,"size":4},"encoding":{"y":{"field":"hi","type":"quantitative","scale":{"domain":[0,900],"nice":false},"axis":{"values":[0,450,900],"title":null}}}}
      ]},
     {"data":{"values":[{"x":-0.14705,"x2":1,"y":1.06306,"y2":-0.17117}]},"mark":{"type":"rect","opacity":0},"encoding":{"x":{"field":"x","type":"quantitative","scale":{"domain":[0,1],"nice":false,"zero":false},"axis":null},"x2":{"field":"x2"},"y":{"field":"y","type":"quantitative","scale":{"domain":[0,1],"nice":false,"zero":false},"axis":null},"y2":{"field":"y2"}}}
    ]}
  ],"spacing":0,"resolve":{"scale":{"color":"independent","fill":"independent","shape":"independent","stroke":"independent","xOffset":"independent"},"legend":{"color":"independent","fill":"independent","shape":"independent","stroke":"independent"}}},
  {"width":567,"height":24,
   "encoding":{"x":{"field":"x","type":"quantitative","scale":{"domain":[0,1],"nice":false,"zero":false},"axis":null},"y":{"field":"y","type":"quantitative","scale":{"domain":[0,1],"nice":false,"zero":false},"axis":null}},
   "layer":[
    {"data":{"values":[{"x":-0.04409,"x2":0.999,"y":0.999,"y2":0.001}]},"mark":{"type":"rect","opacity":0},"encoding":{"x2":{"field":"x2"},"y2":{"field":"y2"}}},
    {"data":{"values":[{"x":0.0864,"y":0.5,"t":"Hours"}]},"mark":{"type":"text","align":"center","baseline":"middle","fontSize":14},"encoding":{"text":{"field":"t"}}},
    {"data":{"values":[{"x":0.127,"x2":0.9647,"y":0.5}]},"mark":{"type":"rule","strokeWidth":2,"color":"black"},"encoding":{"x2":{"field":"x2"}}},
    {"data":{"values":[{"x":0.9665,"y":0.5}]},"mark":{"type":"point","shape":"triangle-right","filled":true,"color":"black","size":70,"opacity":1}}
   ]}
 ],"spacing":0,"resolve":{"scale":{"color":"independent","fill":"independent","shape":"independent","stroke":"independent","xOffset":"independent"},"legend":{"color":"independent","fill":"independent","shape":"independent","stroke":"independent"}}}
],"spacing":0,"resolve":{"scale":{"color":"independent","fill":"independent","shape":"independent","stroke":"independent","xOffset":"independent"},"legend":{"color":"independent","fill":"independent","shape":"independent","stroke":"independent"}}},
{"hconcat":[
 {"width":1,"height":1,"data":{"values":[{"s":1}]},"mark":{"type":"text","text":""}},
 {"width":232,"height":157,
  "resolve":{"scale":{"x":"independent","y":"independent"}},
  "layer":[
   {"data":{"name":"F"},
    "encoding":{"x":{"field":"d","type":"nominal","sort":["T only","0.031","0.063","0.125","0.25","0.5"],"scale":{"type":"band","paddingInner":0,"paddingOuter":0},"bandPosition":0.5,"axis":{"title":"OVA peptide (µg/ml)","titleFontSize":13,"tickBand":"extent","labelPadding":4,"titlePadding":5}}},
    "layer":[
     {"mark":{"type":"line","color":"black","strokeWidth":1.8},"encoding":{"y":{"field":"v","type":"quantitative","scale":{"domain":[0,90],"nice":false},"axis":{"values":[0,30,60,90],"title":"CPM (x10³)","titleFontSize":12}},"detail":{"field":"g","type":"nominal"}}},
     {"mark":{"type":"rule","color":"#333","strokeWidth":1},"encoding":{"y":{"field":"lo","type":"quantitative","scale":{"domain":[0,90],"nice":false},"axis":{"values":[0,30,60,90],"title":"CPM (x10³)","titleFontSize":12}},"y2":{"field":"hi"}}},
     {"mark":{"type":"tick","color":"#333","thickness":1,"size":5},"encoding":{"y":{"field":"lo","type":"quantitative","scale":{"domain":[0,90],"nice":false},"axis":{"values":[0,30,60,90],"title":"CPM (x10³)","titleFontSize":12}}}},
     {"mark":{"type":"tick","color":"#333","thickness":1,"size":5},"encoding":{"y":{"field":"hi","type":"quantitative","scale":{"domain":[0,90],"nice":false},"axis":{"values":[0,30,60,90],"title":"CPM (x10³)","titleFontSize":12}}}},
     {"mark":{"type":"point","filled":true,"strokeWidth":1,"size":40,"opacity":1},"encoding":{"y":{"field":"v","type":"quantitative","scale":{"domain":[0,90],"nice":false},"axis":{"values":[0,30,60,90],"title":"CPM (x10³)","titleFontSize":12}},
       "shape":{"field":"g","type":"nominal","scale":{"domain":["OT-II⁻ᐟ⁻ mIg","OT-II⁻ᐟ⁻ mam82","OT-II⁺ᐟ⁺ mIg","OT-II⁺ᐟ⁺ mam82"],"range":["triangle-up","circle","diamond","square"]},"legend":{"orient":"none","legendX":238,"legendY":-3,"title":null,"labelFontSize":10.5,"symbolSize":45,"symbolStrokeWidth":1,"rowPadding":3.5}},
       "fill":{"field":"g","type":"nominal","scale":{"domain":["OT-II⁻ᐟ⁻ mIg","OT-II⁻ᐟ⁻ mam82","OT-II⁺ᐟ⁺ mIg","OT-II⁺ᐟ⁺ mam82"],"range":["black","black","white","white"]},"legend":{"orient":"none","legendX":238,"legendY":-3,"title":null,"labelFontSize":10.5,"symbolSize":45,"symbolStrokeWidth":1,"rowPadding":3.5}},
       "stroke":{"field":"g","type":"nominal","scale":{"domain":["OT-II⁻ᐟ⁻ mIg","OT-II⁻ᐟ⁻ mam82","OT-II⁺ᐟ⁺ mIg","OT-II⁺ᐟ⁺ mam82"],"range":["black","black","black","black"]},"legend":{"orient":"none","legendX":238,"legendY":-3,"title":null,"labelFontSize":10.5,"symbolSize":45,"symbolStrokeWidth":1,"rowPadding":3.5}}}},
     {"transform":[{"filter":"datum.s"}],"mark":{"type":"text","text":"*","fontSize":14,"dy":19,"baseline":"middle"},"encoding":{"y":{"field":"lo","type":"quantitative","scale":{"domain":[0,90],"nice":false},"axis":{"values":[0,30,60,90],"title":"CPM (x10³)","titleFontSize":12}}}}
    ]},
   {"data":{"values":[{"x":-0.24568,"x2":1.45689,"y":1.0828,"y2":-0.34394}]},"mark":{"type":"rect","opacity":0},"encoding":{"x":{"field":"x","type":"quantitative","scale":{"domain":[0,1],"nice":false,"zero":false},"axis":null},"x2":{"field":"x2"},"y":{"field":"y","type":"quantitative","scale":{"domain":[0,1],"nice":false,"zero":false},"axis":null},"y2":{"field":"y2"}}},
   {"data":{"values":[{"x":-0.2284,"y":0.9427,"t":"F"}]},"mark":{"type":"text","align":"left","baseline":"alphabetic","fontSize":15,"fontWeight":"bold"},"encoding":{"x":{"field":"x","type":"quantitative","scale":{"domain":[0,1],"nice":false,"zero":false},"axis":null},"y":{"field":"y","type":"quantitative","scale":{"domain":[0,1],"nice":false,"zero":false},"axis":null},"text":{"field":"t"}}}
  ]},
 {"width":232,"height":157,
  "resolve":{"scale":{"x":"independent","y":"independent"}},
  "layer":[
   {"data":{"name":"G"},
    "encoding":{"x":{"field":"d","type":"nominal","sort":["APC only","T only","0.01","0.02","0.03","0.06","0.13","0.25","0.5","1"],"scale":{"type":"band","paddingInner":0,"paddingOuter":0},"bandPosition":0.5,"axis":{"title":null,"tickBand":"extent","labelAngle":-45,"labelPadding":2,"labelFontSize":9}}},
    "layer":[
     {"mark":{"type":"line","color":"black","strokeWidth":1.8},"encoding":{"y":{"field":"v","type":"quantitative","scale":{"domain":[0,256.54],"nice":false},"axis":{"values":[0,50,100,150,200,250],"title":"CPM (x10³)","titleFontSize":12,"labelFontSize":10.5}},"detail":{"field":"g","type":"nominal"}}},
     {"mark":{"type":"rule","color":"#333","strokeWidth":1},"encoding":{"y":{"field":"lo","type":"quantitative","scale":{"domain":[0,256.54],"nice":false},"axis":{"values":[0,50,100,150,200,250],"title":"CPM (x10³)","titleFontSize":12,"labelFontSize":10.5}},"y2":{"field":"hi"}}},
     {"mark":{"type":"tick","color":"#333","thickness":1,"size":5},"encoding":{"y":{"field":"lo","type":"quantitative","scale":{"domain":[0,256.54],"nice":false},"axis":{"values":[0,50,100,150,200,250],"title":"CPM (x10³)","titleFontSize":12,"labelFontSize":10.5}}}},
     {"mark":{"type":"tick","color":"#333","thickness":1,"size":5},"encoding":{"y":{"field":"hi","type":"quantitative","scale":{"domain":[0,256.54],"nice":false},"axis":{"values":[0,50,100,150,200,250],"title":"CPM (x10³)","titleFontSize":12,"labelFontSize":10.5}}}},
     {"mark":{"type":"point","filled":false,"color":"#222","strokeWidth":1,"size":45,"opacity":1},"encoding":{"y":{"field":"v","type":"quantitative","scale":{"domain":[0,256.54],"nice":false},"axis":{"values":[0,50,100,150,200,250],"title":"CPM (x10³)","titleFontSize":12,"labelFontSize":10.5}},"shape":{"field":"g","type":"nominal","scale":{"domain":["OT-II KO T/KO APC","OT-II WT T/KO APC","OT-II KO T/WT APC","OT-II WT T/WT APC"],"range":["square","diamond","triangle-up","circle"]},"legend":{"orient":"none","legendX":237,"legendY":-3,"title":null,"labelFontSize":10.5,"symbolSize":45,"symbolStrokeColor":"#222","rowPadding":5.5}}}}
    ]},
   {"data":{"values":[{"x":-0.2112,"x2":1,"y":1.0828,"y2":-0.34394}]},"mark":{"type":"rect","opacity":0},"encoding":{"x":{"field":"x","type":"quantitative","scale":{"domain":[0,1],"nice":false,"zero":false},"axis":null},"x2":{"field":"x2"},"y":{"field":"y","type":"quantitative","scale":{"domain":[0,1],"nice":false,"zero":false},"axis":null},"y2":{"field":"y2"}}},
   {"data":{"values":[{"x":-0.2026,"y":0.9936,"t":"G"}]},"mark":{"type":"text","align":"left","baseline":"alphabetic","fontSize":15,"fontWeight":"bold"},"encoding":{"x":{"field":"x","type":"quantitative","scale":{"domain":[0,1],"nice":false,"zero":false},"axis":null},"y":{"field":"y","type":"quantitative","scale":{"domain":[0,1],"nice":false,"zero":false},"axis":null},"text":{"field":"t"}}},
   {"data":{"values":[{"x":0.5,"y":-0.2484,"t":"OVA peptide (µg/ml)"}]},"mark":{"type":"text","align":"center","baseline":"middle","fontSize":13},"encoding":{"x":{"field":"x","type":"quantitative","scale":{"domain":[0,1],"nice":false,"zero":false},"axis":null},"y":{"field":"y","type":"quantitative","scale":{"domain":[0,1],"nice":false,"zero":false},"axis":null},"text":{"field":"t"}}}
  ]}
],"spacing":0,"resolve":{"scale":{"color":"independent","fill":"independent","shape":"independent","stroke":"independent","xOffset":"independent"},"legend":{"color":"independent","fill":"independent","shape":"independent","stroke":"independent"}}},
{"hconcat":[
 {"width":1,"height":1,"data":{"values":[{"s":1}]},"mark":{"type":"text","text":""}},
 {"vconcat":[
  {"width":93,"height":95,
   "resolve":{"scale":{"x":"independent","y":"independent"}},
   "layer":[
    {"data":{"name":"HI"},"transform":[{"filter":"datum.p == 'H'"}],
     "encoding":{"x":{"field":"t","type":"nominal","sort":["control","mam82"],"scale":{"type":"band","paddingInner":0.6,"paddingOuter":0.32},"axis":{"title":null,"labels":false,"tickBand":"extent"}}},
     "layer":[
      {"mark":{"type":"bar","stroke":"#555","strokeWidth":1},"encoding":{"y":{"field":"v","type":"quantitative","scale":{"domain":[0,12],"nice":false},"axis":{"values":[0,4,8,12],"title":"OT-II (x10⁵)","titleFontSize":12}},"color":{"field":"t","type":"nominal","scale":{"domain":["control","mam82"],"range":["#c0c0c0","#333333"]},"legend":null}}},
      {"mark":{"type":"rule","color":"#222","strokeWidth":1},"encoding":{"y":{"field":"lo","type":"quantitative","scale":{"domain":[0,12],"nice":false},"axis":{"values":[0,4,8,12],"title":"OT-II (x10⁵)","titleFontSize":12}},"y2":{"field":"hi"}}},
      {"mark":{"type":"tick","color":"#222","thickness":1,"size":4},"encoding":{"y":{"field":"lo","type":"quantitative","scale":{"domain":[0,12],"nice":false},"axis":{"values":[0,4,8,12],"title":"OT-II (x10⁵)","titleFontSize":12}}}},
      {"mark":{"type":"tick","color":"#222","thickness":1,"size":4},"encoding":{"y":{"field":"hi","type":"quantitative","scale":{"domain":[0,12],"nice":false},"axis":{"values":[0,4,8,12],"title":"OT-II (x10⁵)","titleFontSize":12}}}},
      {"transform":[{"filter":"datum.s"}],"mark":{"type":"text","text":"*","fontSize":14,"dy":-14,"baseline":"middle"},"encoding":{"y":{"field":"hi","type":"quantitative","scale":{"domain":[0,12],"nice":false},"axis":{"values":[0,4,8,12],"title":"OT-II (x10⁵)","titleFontSize":12}}}}
     ]},
    {"data":{"values":[{"x":-0.6129,"x2":1.09677,"y":1.15789,"y2":-0.16842}]},"mark":{"type":"rect","opacity":0},"encoding":{"x":{"field":"x","type":"quantitative","scale":{"domain":[0,1],"nice":false,"zero":false},"axis":null},"x2":{"field":"x2"},"y":{"field":"y","type":"quantitative","scale":{"domain":[0,1],"nice":false,"zero":false},"axis":null},"y2":{"field":"y2"}}},
    {"data":{"values":[{"x":-0.5914,"y":0.9684,"t":"H"}]},"mark":{"type":"text","align":"left","baseline":"alphabetic","fontSize":15,"fontWeight":"bold"},"encoding":{"x":{"field":"x","type":"quantitative","scale":{"domain":[0,1],"nice":false,"zero":false},"axis":null},"y":{"field":"y","type":"quantitative","scale":{"domain":[0,1],"nice":false,"zero":false},"axis":null},"text":{"field":"t"}}}
   ]},
  {"width":93,"height":99,
   "resolve":{"scale":{"x":"independent","y":"independent"}},
   "layer":[
    {"data":{"name":"HI"},"transform":[{"filter":"datum.p == 'I'"}],
     "encoding":{"x":{"field":"t","type":"nominal","sort":["control","mam82"],"scale":{"type":"band","paddingInner":0.6,"paddingOuter":0.32},"axis":{"title":null,"tickBand":"extent","labelFontSize":10}}},
     "layer":[
      {"mark":{"type":"bar","stroke":"#555","strokeWidth":1},"encoding":{"y":{"field":"v","type":"quantitative","scale":{"domain":[0,100],"nice":false},"axis":{"values":[0,50,100],"title":"% CD44⁺","titleFontSize":13}},"color":{"field":"t","type":"nominal","scale":{"domain":["control","mam82"],"range":["#c0c0c0","#333333"]},"legend":null}}},
      {"mark":{"type":"rule","color":"#222","strokeWidth":1},"encoding":{"y":{"field":"lo","type":"quantitative","scale":{"domain":[0,100],"nice":false},"axis":{"values":[0,50,100],"title":"% CD44⁺","titleFontSize":13}},"y2":{"field":"hi"}}},
      {"mark":{"type":"tick","color":"#222","thickness":1,"size":4},"encoding":{"y":{"field":"lo","type":"quantitative","scale":{"domain":[0,100],"nice":false},"axis":{"values":[0,50,100],"title":"% CD44⁺","titleFontSize":13}}}},
      {"mark":{"type":"tick","color":"#222","thickness":1,"size":4},"encoding":{"y":{"field":"hi","type":"quantitative","scale":{"domain":[0,100],"nice":false},"axis":{"values":[0,50,100],"title":"% CD44⁺","titleFontSize":13}}}},
      {"transform":[{"filter":"datum.s"}],"mark":{"type":"text","text":"*","fontSize":14,"dy":-12,"baseline":"middle"},"encoding":{"y":{"field":"hi","type":"quantitative","scale":{"domain":[0,100],"nice":false},"axis":{"values":[0,50,100],"title":"% CD44⁺","titleFontSize":13}}}}
     ]},
    {"data":{"values":[{"x":-0.6129,"x2":1.09677,"y":1.13131,"y2":-0.1}]},"mark":{"type":"rect","opacity":0},"encoding":{"x":{"field":"x","type":"quantitative","scale":{"domain":[0,1],"nice":false,"zero":false},"axis":null},"x2":{"field":"x2"},"y":{"field":"y","type":"quantitative","scale":{"domain":[0,1],"nice":false,"zero":false},"axis":null},"y2":{"field":"y2"}}},
    {"data":{"values":[{"x":-0.5161,"y":0.9293,"t":"I"}]},"mark":{"type":"text","align":"left","baseline":"alphabetic","fontSize":15,"fontWeight":"bold"},"encoding":{"x":{"field":"x","type":"quantitative","scale":{"domain":[0,1],"nice":false,"zero":false},"axis":null},"y":{"field":"y","type":"quantitative","scale":{"domain":[0,1],"nice":false,"zero":false},"axis":null},"text":{"field":"t"}}}
   ]}
 ],"spacing":0,"resolve":{"scale":{"color":"independent","fill":"independent","shape":"independent","stroke":"independent","xOffset":"independent"},"legend":{"color":"independent","fill":"independent","shape":"independent","stroke":"independent"}}},
 {"width":210,"height":126,
  "resolve":{"scale":{"x":"independent","y":"independent"}},
  "layer":[
   {"data":{"name":"J"},
    "encoding":{"x":{"field":"day","type":"nominal","sort":["1","3","5","8"],"scale":{"type":"band","paddingInner":0,"paddingOuter":0},"bandPosition":0.5,"axis":{"title":null,"tickBand":"extent","labelPadding":4,"labelFontSize":10.5}}},
    "layer":[
     {"mark":{"type":"line","color":"black","strokeWidth":1.8},"encoding":{"y":{"field":"v","type":"quantitative","scale":{"domain":[0,9],"nice":false},"axis":{"values":[0,3,6,9],"title":"% OT-II","titleFontSize":14}},"detail":{"field":"g","type":"nominal"}}},
     {"mark":{"type":"rule","color":"#333","strokeWidth":1},"encoding":{"y":{"field":"lo","type":"quantitative","scale":{"domain":[0,9],"nice":false},"axis":{"values":[0,3,6,9],"title":"% OT-II","titleFontSize":14}},"y2":{"field":"hi"}}},
     {"mark":{"type":"tick","color":"#333","thickness":1,"size":5},"encoding":{"y":{"field":"lo","type":"quantitative","scale":{"domain":[0,9],"nice":false},"axis":{"values":[0,3,6,9],"title":"% OT-II","titleFontSize":14}}}},
     {"mark":{"type":"tick","color":"#333","thickness":1,"size":5},"encoding":{"y":{"field":"hi","type":"quantitative","scale":{"domain":[0,9],"nice":false},"axis":{"values":[0,3,6,9],"title":"% OT-II","titleFontSize":14}}}},
     {"mark":{"type":"point","filled":false,"color":"#222","strokeWidth":1,"size":40,"opacity":1},"encoding":{"y":{"field":"v","type":"quantitative","scale":{"domain":[0,9],"nice":false},"axis":{"values":[0,3,6,9],"title":"% OT-II","titleFontSize":14}},"shape":{"field":"g","type":"nominal","scale":{"domain":["OT-II⁻ᐟ⁻","OT-II⁺ᐟ⁺"],"range":["square","diamond"]},"legend":null}}},
     {"transform":[{"filter":"datum.s"}],"mark":{"type":"text","text":"*","fontSize":14,"dy":-6,"baseline":"middle"},"encoding":{"y":{"field":"hi","type":"quantitative","scale":{"domain":[0,9],"nice":false},"axis":{"values":[0,3,6,9],"title":"% OT-II","titleFontSize":14}}}}
    ]},
   {"data":{"values":[{"x":-0.22857,"x2":1.07619,"y":1.11904,"y2":-0.2}]},"mark":{"type":"rect","opacity":0},"encoding":{"x":{"field":"x","type":"quantitative","scale":{"domain":[0,1],"nice":false,"zero":false},"axis":null},"x2":{"field":"x2"},"y":{"field":"y","type":"quantitative","scale":{"domain":[0,1],"nice":false,"zero":false},"axis":null},"y2":{"field":"y2"}}},
   {"data":{"values":[{"x":-0.1714,"y":0.9603,"t":"J"}]},"mark":{"type":"text","align":"left","baseline":"alphabetic","fontSize":15,"fontWeight":"bold"},"encoding":{"x":{"field":"x","type":"quantitative","scale":{"domain":[0,1],"nice":false,"zero":false},"axis":null},"y":{"field":"y","type":"quantitative","scale":{"domain":[0,1],"nice":false,"zero":false},"axis":null},"text":{"field":"t"}}},
   {"data":{"values":[{"x":0.1524,"y":-0.2143,"t":"Day"}]},"mark":{"type":"text","align":"center","baseline":"middle","fontSize":13.5},"encoding":{"x":{"field":"x","type":"quantitative","scale":{"domain":[0,1],"nice":false,"zero":false},"axis":null},"y":{"field":"y","type":"quantitative","scale":{"domain":[0,1],"nice":false,"zero":false},"axis":null},"text":{"field":"t"}}},
   {"data":{"values":[{"x":0.2381,"x2":0.9333,"y":-0.2143}]},"mark":{"type":"rule","strokeWidth":2,"color":"black"},"encoding":{"x":{"field":"x","type":"quantitative","scale":{"domain":[0,1],"nice":false,"zero":false},"axis":null},"x2":{"field":"x2"},"y":{"field":"y","type":"quantitative","scale":{"domain":[0,1],"nice":false,"zero":false},"axis":null}}},
   {"data":{"values":[{"x":0.9381,"y":-0.2143}]},"mark":{"type":"point","shape":"triangle-right","filled":true,"color":"black","size":70,"opacity":1},"encoding":{"x":{"field":"x","type":"quantitative","scale":{"domain":[0,1],"nice":false,"zero":false},"axis":null},"y":{"field":"y","type":"quantitative","scale":{"domain":[0,1],"nice":false,"zero":false},"axis":null}}}
  ]},
 {"width":200,"height":125,
  "resolve":{"scale":{"x":"independent","y":"independent"}},
  "layer":[
   {"data":{"name":"K"},
    "encoding":{"x":{"field":"day","type":"nominal","sort":["3","5","7","9"],"scale":{"type":"band","paddingInner":0,"paddingOuter":0},"bandPosition":0.5,"axis":{"title":null,"tickBand":"extent","labelPadding":4}}},
    "layer":[
     {"mark":{"type":"line","color":"black","strokeWidth":1.8},"encoding":{"y":{"field":"v","type":"quantitative","scale":{"domain":[0,40],"nice":false},"axis":{"values":[0,10,20,30,40],"title":"% PD-1H⁺ of OT-II","titleFontSize":13}},"detail":{"field":"g","type":"nominal"}}},
     {"mark":{"type":"rule","color":"#333","strokeWidth":1},"encoding":{"y":{"field":"lo","type":"quantitative","scale":{"domain":[0,40],"nice":false},"axis":{"values":[0,10,20,30,40],"title":"% PD-1H⁺ of OT-II","titleFontSize":13}},"y2":{"field":"hi"}}},
     {"mark":{"type":"tick","color":"#333","thickness":1,"size":5},"encoding":{"y":{"field":"lo","type":"quantitative","scale":{"domain":[0,40],"nice":false},"axis":{"values":[0,10,20,30,40],"title":"% PD-1H⁺ of OT-II","titleFontSize":13}}}},
     {"mark":{"type":"tick","color":"#333","thickness":1,"size":5},"encoding":{"y":{"field":"hi","type":"quantitative","scale":{"domain":[0,40],"nice":false},"axis":{"values":[0,10,20,30,40],"title":"% PD-1H⁺ of OT-II","titleFontSize":13}}}},
     {"mark":{"type":"point","filled":false,"color":"#222","strokeWidth":1,"size":45,"opacity":1},"encoding":{"y":{"field":"v","type":"quantitative","scale":{"domain":[0,40],"nice":false},"axis":{"values":[0,10,20,30,40],"title":"% PD-1H⁺ of OT-II","titleFontSize":13}},"shape":{"field":"g","type":"nominal","scale":{"domain":["OT-II⁻ᐟ⁻","OT-II⁺ᐟ⁺"],"range":["square","diamond"]},"legend":{"orient":"none","legendX":210,"legendY":-6,"title":null,"labelFontSize":10,"symbolSize":40,"symbolStrokeColor":"#222","rowPadding":4}}}}
    ]},
   {"data":{"values":[{"x":-0.21499,"x2":1,"y":1.11999,"y2":-0.2}]},"mark":{"type":"rect","opacity":0},"encoding":{"x":{"field":"x","type":"quantitative","scale":{"domain":[0,1],"nice":false,"zero":false},"axis":null},"x2":{"field":"x2"},"y":{"field":"y","type":"quantitative","scale":{"domain":[0,1],"nice":false,"zero":false},"axis":null},"y2":{"field":"y2"}}},
   {"data":{"values":[{"x":-0.2,"y":0.976,"t":"K"}]},"mark":{"type":"text","align":"left","baseline":"alphabetic","fontSize":15,"fontWeight":"bold"},"encoding":{"x":{"field":"x","type":"quantitative","scale":{"domain":[0,1],"nice":false,"zero":false},"axis":null},"y":{"field":"y","type":"quantitative","scale":{"domain":[0,1],"nice":false,"zero":false},"axis":null},"text":{"field":"t"}}},
   {"data":{"values":[{"x":0.05,"y":-0.224,"t":"Day"}]},"mark":{"type":"text","align":"center","baseline":"middle","fontSize":13.5},"encoding":{"x":{"field":"x","type":"quantitative","scale":{"domain":[0,1],"nice":false,"zero":false},"axis":null},"y":{"field":"y","type":"quantitative","scale":{"domain":[0,1],"nice":false,"zero":false},"axis":null},"text":{"field":"t"}}},
   {"data":{"values":[{"x":0.14,"x2":0.87,"y":-0.224}]},"mark":{"type":"rule","strokeWidth":2,"color":"black"},"encoding":{"x":{"field":"x","type":"quantitative","scale":{"domain":[0,1],"nice":false,"zero":false},"axis":null},"x2":{"field":"x2"},"y":{"field":"y","type":"quantitative","scale":{"domain":[0,1],"nice":false,"zero":false},"axis":null}}},
   {"data":{"values":[{"x":0.875,"y":-0.224}]},"mark":{"type":"point","shape":"triangle-right","filled":true,"color":"black","size":70,"opacity":1},"encoding":{"x":{"field":"x","type":"quantitative","scale":{"domain":[0,1],"nice":false,"zero":false},"axis":null},"y":{"field":"y","type":"quantitative","scale":{"domain":[0,1],"nice":false,"zero":false},"axis":null}}}
  ]}
],"spacing":0,"resolve":{"scale":{"color":"independent","fill":"independent","shape":"independent","stroke":"independent","xOffset":"independent"},"legend":{"color":"independent","fill":"independent","shape":"independent","stroke":"independent"}}}
],
"config":{
 "font":"Liberation Sans",
 "view":{"stroke":null},
 "axis":{"labelFont":"Liberation Sans","titleFont":"Liberation Sans","labelFontSize":9.5,"labelFontWeight":"bold","labelColor":"#222","titleFontWeight":"normal","titleColor":"#111","titleFontSize":12,"domainColor":"#999","tickColor":"#999","gridColor":"#c8c8c8","tickSize":4,"labelPadding":3,"grid":false},
 "axisY":{"grid":true},
 "axisX":{"labelAngle":0},
 "legend":{"labelFont":"Liberation Sans","labelFontSize":10,"labelColor":"#111","rowPadding":1},
 "text":{"font":"Liberation Sans"}
}
}
